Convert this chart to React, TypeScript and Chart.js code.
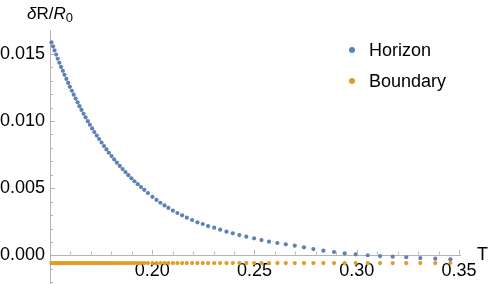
import React, { useEffect, useRef } from "react";
import { Chart, registerables } from "chart.js";

Chart.register(...registerables);

// Temperature values (shared by both series)
const temperatures = [
  0.1507, 0.1515, 0.1522, 0.1530, 0.1538, 0.1546, 0.1554, 0.1563, 0.1571, 0.1580,
  0.1589, 0.1597, 0.1607, 0.1616, 0.1625, 0.1635, 0.1644, 0.1654, 0.1664, 0.1674,
  0.1685, 0.1695, 0.1706, 0.1717, 0.1729, 0.1740, 0.1752, 0.1764, 0.1776, 0.1788,
  0.1801, 0.1814, 0.1827, 0.1841, 0.1855, 0.1869, 0.1883, 0.1898, 0.1913, 0.1929,
  0.1945, 0.1961, 0.1979, 0.2001, 0.2021, 0.2040, 0.2060, 0.2079, 0.2101, 0.2123,
  0.2146, 0.2169, 0.2195, 0.2221, 0.2247, 0.2273, 0.2303, 0.2332, 0.2363, 0.2394,
  0.2426, 0.2460, 0.2498, 0.2534, 0.2571, 0.2612, 0.2653, 0.2697, 0.2742, 0.2788,
  0.2837, 0.2889, 0.2941, 0.2995, 0.3054, 0.3114, 0.3176, 0.3242, 0.3311, 0.3384,
  0.3458,
];

const horizonValues = [
  0.01585, 0.01555, 0.01525, 0.01494, 0.01463, 0.01433, 0.01402, 0.01373, 0.01343, 0.01313,
  0.01283, 0.01254, 0.01225, 0.01196, 0.01167, 0.01139, 0.01110, 0.01082, 0.01054, 0.01027,
  0.00999, 0.00972, 0.00945, 0.00918, 0.00892, 0.00866, 0.00840, 0.00814, 0.00789, 0.00764,
  0.00739, 0.00714, 0.00690, 0.00666, 0.00643, 0.00620, 0.00597, 0.00574, 0.00552, 0.00530,
  0.00509, 0.00488, 0.00464, 0.00436, 0.00413, 0.00392, 0.00372, 0.00354, 0.00334, 0.00316,
  0.00299, 0.00281, 0.00264, 0.00247, 0.00234, 0.00219, 0.00207, 0.00192, 0.00177, 0.00165,
  0.00152, 0.00140, 0.00128, 0.00115, 0.00103, 0.00093, 0.00083, 0.00073, 0.00061, 0.00048,
  0.00036, 0.00026, 0.00016, 0.00009, 0.00002, -0.00004, -0.00009, -0.00013, -0.00019, -0.00024,
  -0.00028,
];

const boundaryValues = [
  -0.00056, -0.00056, -0.00056, -0.00056, -0.00056, -0.00056, -0.00056, -0.00056, -0.00056, -0.00056,
  -0.00056, -0.00056, -0.00056, -0.00056, -0.00056, -0.00056, -0.00056, -0.00056, -0.00056, -0.00056,
  -0.00056, -0.00056, -0.00056, -0.00056, -0.00056, -0.00056, -0.00056, -0.00056, -0.00056, -0.00056,
  -0.00056, -0.00056, -0.00056, -0.00056, -0.00056, -0.00056, -0.00056, -0.00056, -0.00056, -0.00056,
  -0.00056, -0.00056, -0.00056, -0.00056, -0.00056, -0.00056, -0.00056, -0.00056, -0.00056, -0.00056,
  -0.00056, -0.00056, -0.00056, -0.00056, -0.00056, -0.00056, -0.00056, -0.00056, -0.00056, -0.00056,
  -0.00056, -0.00056, -0.00056, -0.00056, -0.00056, -0.00056, -0.00056, -0.00056, -0.00056, -0.00056,
  -0.00056, -0.00056, -0.00056, -0.00056, -0.00056, -0.00056, -0.00056, -0.00056, -0.00056, -0.00056,
  -0.00056,
];

const seriesLabels = ["Horizon", "Boundary"];
const xMajorTicks = [0.2, 0.25, 0.3, 0.35];
const xMinorTicks = [0.16, 0.17, 0.18, 0.19, 0.21, 0.22, 0.23, 0.24, 0.26, 0.27, 0.28, 0.29, 0.31, 0.32, 0.33, 0.34];
const yMajorTicks = [0, 0.005, 0.01, 0.015];
const yMinorTicks = [-0.002, -0.001, 0.001, 0.002, 0.003, 0.004, 0.006, 0.007, 0.008, 0.009, 0.011, 0.012, 0.013, 0.014, 0.016];
const xAxisTitle = "T";

const BLUE = "rgb(94,129,181)";
const ORANGE = "rgb(225,156,36)";
const AXIS = "rgb(180,180,180)";
const FONT = "'Liberation Sans', Arial, sans-serif";

const decorPlugin = {
  id: "decor",
  afterDraw(chart: any) {
    const ctx = chart.ctx;
    const xs = chart.scales.x;
    const ys = chart.scales.y;
    const x0 = Math.round(xs.getPixelForValue(0.15)) + 0.5;
    const y0 = Math.round(ys.getPixelForValue(0)) - 0.5;
    ctx.save();
    ctx.strokeStyle = AXIS;
    ctx.lineWidth = 1;
    ctx.beginPath();
    for (const v of xMajorTicks) {
      const px = Math.round(xs.getPixelForValue(v)) + 0.5;
      ctx.moveTo(px, y0);
      ctx.lineTo(px, y0 - 4.5);
    }
    for (const v of xMinorTicks) {
      const px = Math.round(xs.getPixelForValue(v)) + 0.5;
      ctx.moveTo(px, y0);
      ctx.lineTo(px, y0 - 2.7);
    }
    for (const v of yMajorTicks) {
      const py = Math.round(ys.getPixelForValue(v)) + 0.5;
      ctx.moveTo(x0, py);
      ctx.lineTo(x0 + 4.5, py);
    }
    for (const v of yMinorTicks) {
      const py = Math.round(ys.getPixelForValue(v)) + 0.5;
      ctx.moveTo(x0, py);
      ctx.lineTo(x0 + 2.7, py);
    }
    ctx.stroke();

    // axis labels
    ctx.fillStyle = "#000";
    ctx.textBaseline = "alphabetic";
    ctx.textAlign = "left";
    let x = 27;
    const base = 19;
    ctx.font = `italic 17px ${FONT}`;
    ctx.fillText("δ", x, base);
    x += ctx.measureText("δ").width;
    ctx.font = `17px ${FONT}`;
    ctx.fillText("R/", x, base);
    x += ctx.measureText("R/").width;
    ctx.font = `italic 17px ${FONT}`;
    ctx.fillText("R", x, base);
    x += ctx.measureText("R").width;
    ctx.font = `13px ${FONT}`;
    ctx.fillText("0", x, base + 3);

    ctx.font = `18px ${FONT}`;
    ctx.textBaseline = "middle";
    ctx.fillText(xAxisTitle, xs.right + 17, y0 + 1);

    // legend
    const colors = [BLUE, ORANGE];
    const rows = [50, 81];
    ctx.font = `18px ${FONT}`;
    ctx.textBaseline = "alphabetic";
    seriesLabels.forEach((lab, i) => {
      ctx.fillStyle = colors[i];
      ctx.beginPath();
      ctx.arc(352, rows[i], 3, 0, Math.PI * 2);
      ctx.fill();
      ctx.fillStyle = "#000";
      ctx.fillText(lab, 369, rows[i] + 6);
    });
    ctx.restore();
  },
};

export default function App() {
  const ref = useRef<HTMLCanvasElement | null>(null);
  useEffect(() => {
    document.body.style.margin = "0";
    const canvas = ref.current;
    if (!canvas) return;
    const chart = new Chart(canvas, {
      type: "scatter",
      data: {
        datasets: [
          {
            label: seriesLabels[0],
            data: temperatures.map((t, i) => ({ x: t, y: horizonValues[i] })),
            backgroundColor: BLUE,
            borderColor: BLUE,
            borderWidth: 0,
            pointRadius: 2.1,
            pointHoverRadius: 2.1,
            clip: false,
          },
          {
            label: seriesLabels[1],
            data: temperatures.map((t, i) => ({ x: t, y: boundaryValues[i] })),
            backgroundColor: ORANGE,
            borderColor: ORANGE,
            borderWidth: 0,
            pointRadius: 2.1,
            pointHoverRadius: 2.1,
            clip: false,
          },
        ],
      },
      options: {
        animation: false,
        responsive: false,
        maintainAspectRatio: false,
        devicePixelRatio: 1,
        layout: { autoPadding: false, padding: { top: 30, right: 28, bottom: 1, left: 0 } },
        plugins: { legend: { display: false }, tooltip: { enabled: false } },
        scales: {
          x: {
            type: "linear",
            min: 0.15,
            max: 0.3505,
            position: { y: 0 } as any,
            afterFit: (s: any) => {
              s.height = 0;
              s.paddingLeft = 0;
              s.paddingRight = 0;
            },
            afterBuildTicks: (s: any) => {
              s.ticks = xMajorTicks.map((v) => ({ value: v }));
            },
            grid: { display: false, drawTicks: false },
            border: { display: true, color: AXIS, width: 1 },
            ticks: {
              padding: 5,
              color: "#000",
              autoSkip: false,
              maxRotation: 0,
              font: { family: FONT, size: 18 },
              callback: (v: any) => Number(v).toFixed(2),
            },
          },
          y: {
            type: "linear",
            min: -0.002045,
            max: 0.016766,
            position: "left",
            afterFit: (s: any) => {
              s.width = 50;
              s.paddingTop = 0;
              s.paddingBottom = 0;
            },
            afterBuildTicks: (s: any) => {
              s.ticks = yMajorTicks.map((v) => ({ value: v }));
            },
            grid: { display: false, drawTicks: false },
            border: { display: true, color: AXIS, width: 1 },
            ticks: {
              padding: 5,
              color: "#000",
              font: { family: FONT, size: 18 },
              callback: (v: any) => Number(v).toFixed(3),
            },
          },
        },
      },
      plugins: [decorPlugin],
    });
    return () => chart.destroy();
  }, []);
  return <canvas ref={ref} width={488} height={284} style={{ display: "block", width: 488, height: 284 }} />;
}
